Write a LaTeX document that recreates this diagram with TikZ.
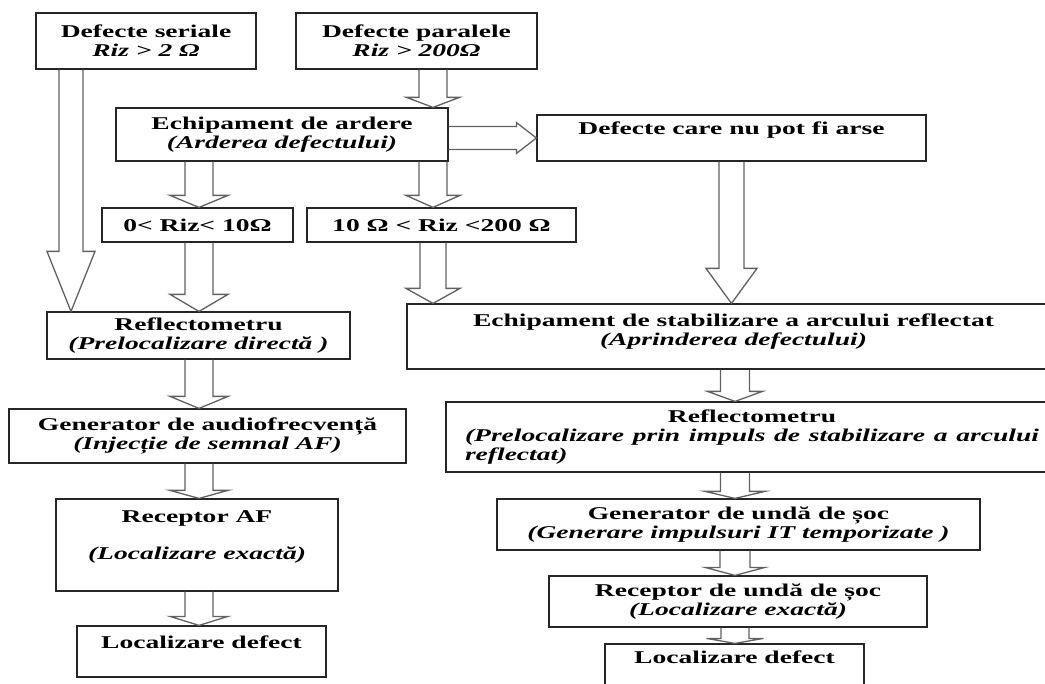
\documentclass[tikz,border=0pt]{standalone}
\usepackage{fontspec}
\setmainfont{Liberation Serif}[FakeStretch=1.53]
\usetikzlibrary{calc}

\newcommand{\subtxt}[1]{{\itshape #1}}

\tikzset{
  box/.style={draw=black!85, line width=1.2pt, align=center, inner sep=0pt,
    font=\fontsize{18}{19}\selectfont\bfseries},
  % hollow block arrow pointing down: shaft half width / head half width / head length
  fatdown/.style n args={3}{draw=black!62, line width=1.3pt, to path={
    let \p1=(\tikztostart), \p2=(\tikztotarget) in
    (\x1-#1,\y1) -- (\x1-#1,\y2+#3) -- (\x1-#2,\y2+#3) -- (\x1,\y2)
    -- (\x1+#2,\y2+#3) -- (\x1+#1,\y2+#3) -- (\x1+#1,\y1)}},
  % same, pointing right
  fatright/.style n args={3}{draw=black!62, line width=1.3pt, to path={
    let \p1=(\tikztostart), \p2=(\tikztotarget) in
    (\x1,\y1+#1) -- (\x2-#3,\y1+#1) -- (\x2-#3,\y1+#2) -- (\x2,\y1)
    -- (\x2-#3,\y1-#2) -- (\x2-#3,\y1-#1) -- (\x1,\y1-#1)}},
}

\begin{document}
\begin{tikzpicture}[x=1pt, y=-1pt]
    \useasboundingbox (0,0) rectangle (1045,684);

    % Top row
    \node[box, minimum width=220pt, minimum height=56pt] (ser) at (146,41)
        {Defecte seriale\\\subtxt{Riz > 2 Ω}};
    \node[box, minimum width=241pt, minimum height=56pt] (par) at (416.5,41)
        {Defecte paralele\\\subtxt{Riz > 200Ω}};

    % Burning stage
    \node[box, minimum width=332pt, minimum height=53pt] (ard) at (282,134.5)
        {Echipament de ardere\\\subtxt{(Arderea defectului)}};
    \node[box, minimum width=389pt, minimum height=46pt] (nuarse) at (731.5,138)
        {Defecte care nu pot fi arse\\~};

    % Resistance ranges
    \node[box, minimum width=191pt, minimum height=34pt] (riz1) at (197.5,225)
        {0< Riz< 10Ω};
    \node[box, minimum width=269pt, minimum height=34pt] (riz2) at (441.5,225)
        {10 Ω < Riz <200 Ω};

    % Left branch
    \node[box, minimum width=303pt, minimum height=47pt] (reflL) at (198.5,335.5)
        {Reflectometru\\\subtxt{(Prelocalizare directă )}};
    \node[box, minimum width=397pt, minimum height=54pt] (genAF) at (207.5,436)
        {Generator de audiofrecvență\\\subtxt{(Injecție de semnal AF)}};
    \node[box, minimum width=282pt, minimum height=92pt] (recAF) at (197,545)
        {Receptor AF\\[18pt]\subtxt{(Localizare exactă)}\\~};
    \node[box, minimum width=249pt, minimum height=51pt] (locL) at (201.5,651.5)
        {Localizare defect\\~};

    % Right branch
    \node[box, minimum width=653pt, minimum height=65pt] (stab) at (733.5,336.5)
        {Echipament de stabilizare a arcului reflectat\\\subtxt{(Aprinderea defectului)}\\[-6pt]~};
    \node[box, text width=574pt, inner xsep=19pt, minimum height=70pt, align=justify] (reflR) at (752,437)
        {{\centering Reflectometru\par}\itshape (Prelocalizare prin impuls de stabilizare a arcului\linebreak reflectat)};
    \node[box, minimum width=483pt, minimum height=51pt] (genUS) at (738.5,524.5)
        {Generator de undă de șoc\\\subtxt{(Generare impulsuri IT temporizate )}};
    \node[box, minimum width=378pt, minimum height=51pt] (recUS) at (738,601.5)
        {Receptor de undă de șoc\\\subtxt{(Localizare exactă)}};
    \node[box, minimum width=259pt, minimum height=46pt] (locR) at (734.5,667)
        {Localizare defect\\~};

    % Arrow columns
    \coordinate (colS) at (71,0);
    \coordinate (colA) at (199,0);
    \coordinate (colB) at (433,0);
    \coordinate (colC) at (735,0);

    % Arrows
    \draw[fatdown={12pt}{24pt}{60pt}] (ser.south -| colS) to (reflL.north -| colS);
    \draw[fatdown={14pt}{26.5pt}{10pt}] (par.south -| colB) to (ard.north -| colB);
    \draw[fatdown={14pt}{29pt}{12pt}] (ard.south -| colA) to (riz1.north -| colA);
    \draw[fatdown={14pt}{27pt}{12pt}] (ard.south -| colB) to (riz2.north -| colB);
    \draw[fatright={11.5pt}{15.5pt}{20pt}] (ard.east |- nuarse) to (nuarse.west);
    \draw[fatdown={14pt}{29pt}{17pt}] (riz1.south -| colA) to (reflL.north -| colA);
    \draw[fatdown={13pt}{27pt}{15pt}] (riz2.south -| colB) to (stab.north -| colB);
    \draw[fatdown={12.5pt}{25.5pt}{35pt}] (nuarse.south) to (stab.north -| nuarse);
    \draw[fatdown={14pt}{29pt}{12pt}] (reflL.south -| colA) to (genAF.north -| colA);
    \draw[fatdown={14pt}{29pt}{8pt}] (genAF.south -| colA) to (recAF.north -| colA);
    \draw[fatdown={14pt}{29pt}{9pt}] (recAF.south -| colA) to (locL.north -| colA);
    \draw[fatdown={14.5pt}{27.5pt}{10pt}] (stab.south -| colC) to (reflR.north -| colC);
    \draw[fatdown={14.5pt}{30pt}{7pt}] (reflR.south -| colC) to (genUS.north -| colC);
    \draw[fatdown={15pt}{30pt}{8pt}] (genUS.south -| colC) to (recUS.north -| colC);
    \draw[fatdown={14pt}{28.5pt}{5pt}] (recUS.south -| colC) to (locR.north -| colC);
\end{tikzpicture}
\end{document}
